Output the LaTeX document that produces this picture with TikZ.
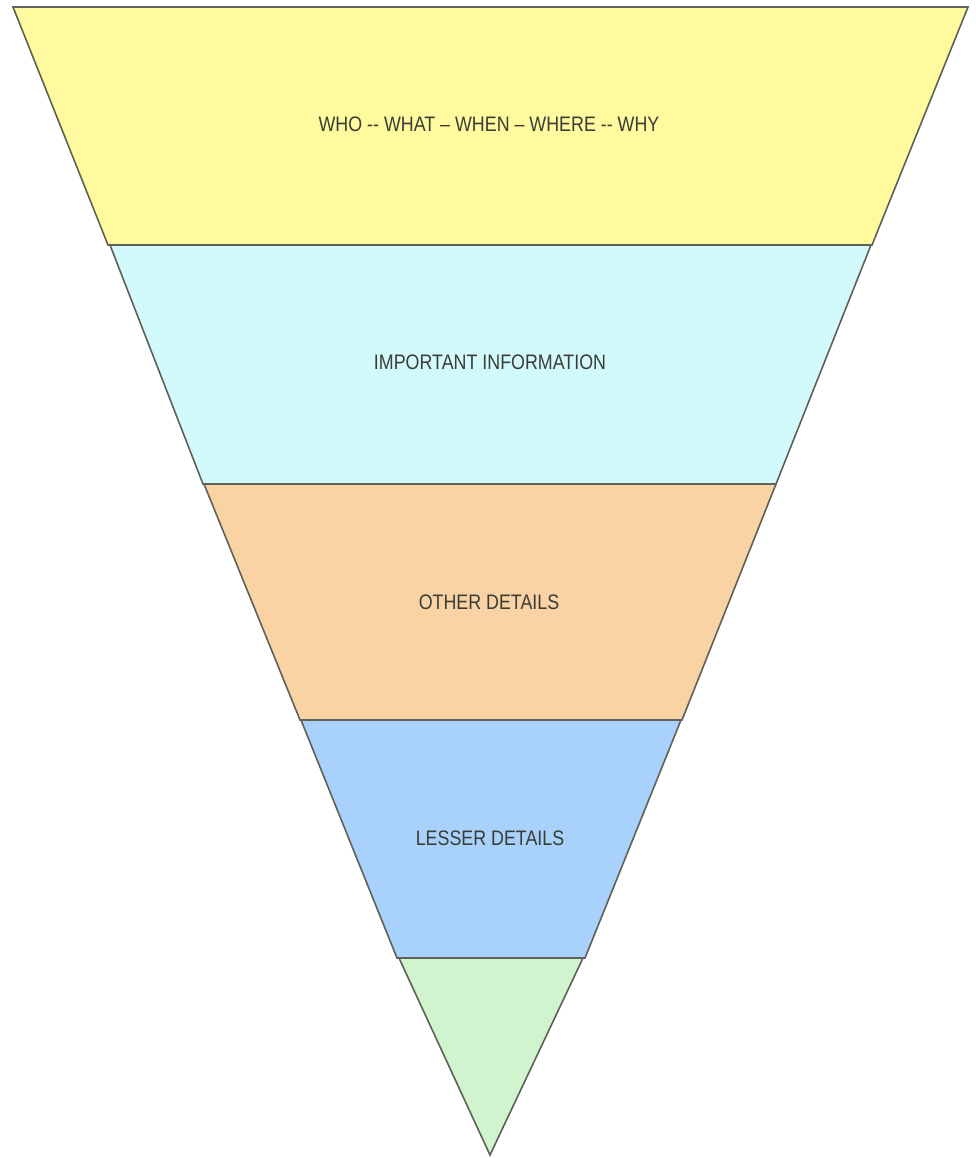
\documentclass[tikz,border=0pt]{standalone}
\usepackage{fontspec}
\setmainfont{Liberation Sans}
\definecolor{bandY}{HTML}{FFFA9E}
\definecolor{bandC}{HTML}{D2FAFC}
\definecolor{bandO}{HTML}{FAD3A5}
\definecolor{bandB}{HTML}{A8D2FC}
\definecolor{bandG}{HTML}{D0F5CE}
\definecolor{edge}{HTML}{5F6158}
\definecolor{txt}{HTML}{3A3D36}
\tikzset{
  band/.style={draw=edge, line width=1.6pt, line join=miter},
  lbl/.style={text=txt, font=\fontsize{21}{24}\selectfont, inner sep=0pt}
}
\newcommand{\cond}[1]{\scalebox{0.85}[1]{#1}}
\begin{document}
\begin{tikzpicture}[x=1pt,y=-1pt]
\useasboundingbox (0,0) rectangle (976,1158);
\fill[white] (0,0) rectangle (976,1158);
\path[band, fill=bandY] (13,7) -- (968,7) -- (872,245) -- (108,245) -- cycle;
\path[band, fill=bandC] (110,245) -- (871,245) -- (776,484) -- (203,484) -- cycle;
\path[band, fill=bandO] (204,484) -- (776,484) -- (682,720) -- (300,720) -- cycle;
\path[band, fill=bandB] (301,720) -- (681,720) -- (585,958) -- (397,958) -- cycle;
\path[band, fill=bandG] (399,958) -- (583,958) -- (490,1155) -- cycle;
\node[lbl] (l1) at (489,124) {\cond{WHO -{}- WHAT – WHEN – WHERE -{}- WHY}};
\node[lbl] (l2) at (490,362) {\cond{IMPORTANT INFORMATION}};
\node[lbl] (l3) at (489,602) {\cond{OTHER DETAILS}};
\node[lbl] (l4) at (490,838) {\cond{LESSER DETAILS}};
\end{tikzpicture}
\end{document}
